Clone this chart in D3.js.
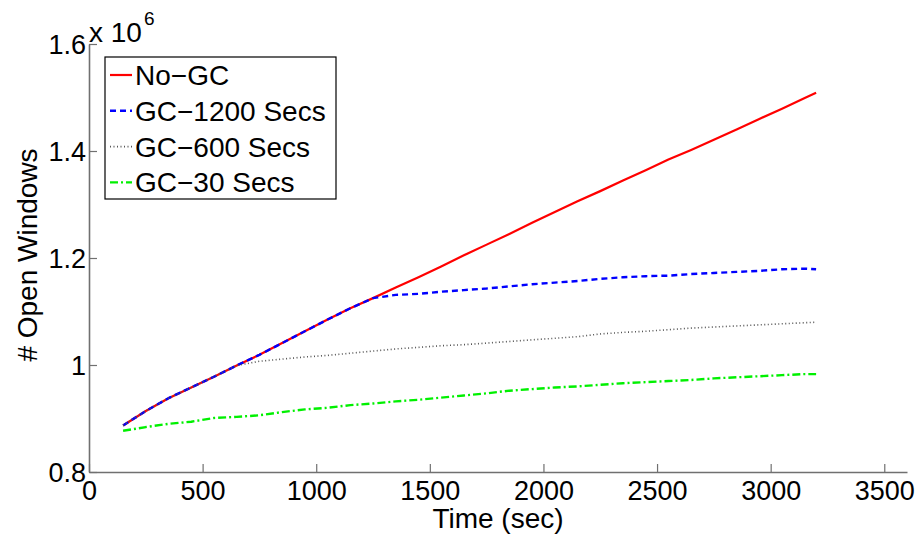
<!DOCTYPE html>
<html>
<head>
<meta charset="utf-8">
<script src="https://cdn.jsdelivr.net/npm/d3@7"></script>
<style>
  body { margin: 0; background: #fff; }
  svg text { font-family: "Liberation Sans", Arial, Helvetica, sans-serif; fill: #000; }
</style>
</head>
<body>
<svg id="chart" width="922" height="536"></svg>
<script>
// time in seconds
const times = [150, 250, 350, 450, 550, 650, 750, 850, 950, 1050, 1150, 1250, 1350, 1450, 1550, 1650,
  1750, 1850, 1950, 2050, 2150, 2250, 2350, 2450, 2550, 2650, 2750, 2850, 2950, 3050, 3150, 3200];

// open windows, in millions
const noGC = [0.887, 0.914, 0.938, 0.958, 0.978, 0.999, 1.019, 1.041, 1.063, 1.085, 1.106, 1.125,
  1.145, 1.164, 1.184, 1.205, 1.225, 1.245, 1.266, 1.286, 1.306, 1.325, 1.345, 1.364, 1.384,
  1.402, 1.421, 1.440, 1.460, 1.479, 1.499, 1.509];
const gc1200 = [0.887, 0.914, 0.938, 0.958, 0.978, 0.999, 1.019, 1.041, 1.063, 1.085, 1.106, 1.125,
  1.131, 1.133, 1.137, 1.140, 1.143, 1.147, 1.151, 1.154, 1.157, 1.161, 1.164, 1.166, 1.167,
  1.170, 1.172, 1.174, 1.176, 1.179, 1.180, 1.179];
const gc600 = [0.887, 0.914, 0.938, 0.958, 0.978, 0.999, 1.007, 1.011, 1.015, 1.018, 1.022, 1.026,
  1.030, 1.033, 1.036, 1.038, 1.041, 1.044, 1.047, 1.050, 1.053, 1.058, 1.061, 1.063, 1.066,
  1.069, 1.071, 1.073, 1.075, 1.077, 1.079, 1.080];
const gc30 = [0.877, 0.884, 0.890, 0.894, 0.901, 0.903, 0.906, 0.912, 0.917, 0.920, 0.925, 0.928,
  0.932, 0.935, 0.939, 0.943, 0.947, 0.952, 0.955, 0.958, 0.960, 0.963, 0.966, 0.968, 0.970,
  0.972, 0.975, 0.977, 0.979, 0.981, 0.983, 0.983];

const seriesNames = ['No\u2212GC', 'GC\u22121200 Secs', 'GC\u2212600 Secs', 'GC\u221230 Secs'];
const xTicks = [0, 500, 1000, 1500, 2000, 2500, 3000, 3500];
const yTicks = [0.8, 1, 1.2, 1.4, 1.6];

const styles = [
  { color: '#ff0000', dash: null, width: 2.2 },
  { color: '#0000ff', dash: '6,4', width: 2.4 },
  { color: '#555555', dash: '1,2.5', width: 1.6 },
  { color: '#00f000', dash: '8,3,2,3', width: 2.4 },
];

const svg = d3.select('#chart');
const x = d3.scaleLinear().domain([0, 3600]).range([89, 907]);
const y = d3.scaleLinear().domain([0.8, 1.6]).range([472, 44]);
const axisColor = '#707070';
const fs = 28;
const tickFs = 27;

// lines
const line = d3.line().x((d, i) => x(times[i])).y(d => y(d));
[noGC, gc1200, gc600, gc30].forEach((vals, k) => {
  const st = styles[k];
  svg.append('path')
    .datum(vals)
    .attr('d', line)
    .attr('fill', 'none')
    .attr('stroke', st.color)
    .attr('stroke-width', st.width)
    .attr('stroke-dasharray', st.dash)
    .attr('stroke-linejoin', 'round');
});

// axes, ticks pointing inward
const gx = svg.append('g').attr('transform', `translate(0,${y(0.8)})`)
  .call(d3.axisBottom(x).tickValues(xTicks).tickFormat(d3.format('d'))
    .tickSizeInner(-8).tickSizeOuter(0).tickPadding(9));
const gy = svg.append('g').attr('transform', `translate(${x(0)},0)`)
  .call(d3.axisLeft(y).tickValues(yTicks).tickFormat(d => d === 1 ? '1' : d3.format('.1f')(d))
    .tickSizeInner(-8).tickSizeOuter(0).tickPadding(3));

[gx, gy].forEach(g => {
  g.select('.domain').attr('stroke', axisColor).attr('stroke-width', 1.6);
  g.selectAll('.tick line').attr('stroke', axisColor).attr('stroke-width', 1.2);
  g.selectAll('.tick text').attr('font-size', tickFs).attr('fill', '#000');
});
gy.selectAll('.tick text').attr('dy', '0.36em');

// exponent label
const expo = svg.append('text').attr('x', 89).attr('y', 42).attr('font-size', fs);
expo.append('tspan').text('x 10');
expo.append('tspan').attr('font-size', 19).attr('dy', -17).attr('dx', 2).text('6');

// axis titles
svg.append('text')
  .attr('x', 498).attr('y', 528)
  .attr('text-anchor', 'middle').attr('font-size', fs)
  .text('Time (sec)');
svg.append('text')
  .attr('transform', 'translate(37,255) rotate(-90)')
  .attr('text-anchor', 'middle').attr('font-size', fs)
  .text('# Open Windows');

// legend
const legend = svg.append('g');
legend.append('rect')
  .attr('x', 105).attr('y', 57).attr('width', 231).attr('height', 142)
  .attr('fill', '#fff').attr('stroke', '#000').attr('stroke-width', 1.2);
seriesNames.forEach((name, k) => {
  const st = styles[k];
  const ly = 75 + k * 35.8;
  legend.append('line')
    .attr('x1', 110).attr('x2', 132).attr('y1', ly).attr('y2', ly)
    .attr('stroke', st.color).attr('stroke-width', st.width)
    .attr('stroke-dasharray', st.dash);
  legend.append('text')
    .attr('x', 135).attr('y', ly + 10)
    .attr('font-size', fs)
    .text(name);
});
</script>
</body>
</html>
